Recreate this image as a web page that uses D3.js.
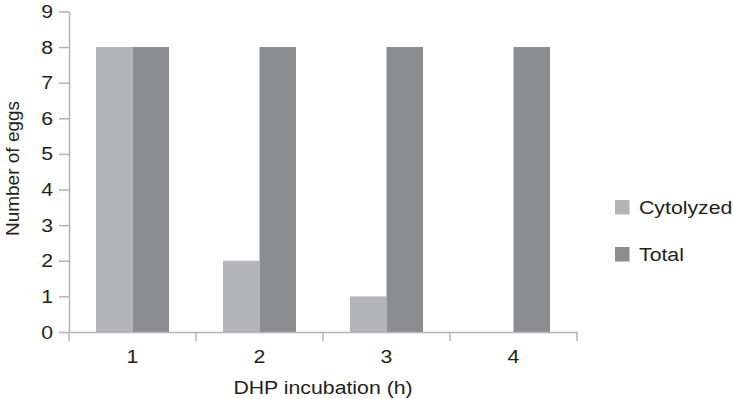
<!DOCTYPE html>
<html>
<head>
<meta charset="utf-8">
<script src="https://cdn.jsdelivr.net/npm/d3@7"></script>
<style>
  html, body { margin: 0; padding: 0; background: #fff; }
  svg { display: block; }
  text { font-family: "Liberation Sans", Arial, Helvetica, sans-serif; fill: #231f20; }
</style>
</head>
<body>
<svg id="chart" width="734" height="399"></svg>
<script>
// Egg counts per DHP incubation time
const categories = ["1", "2", "3", "4"];
const seriesNames = ["Cytolyzed", "Total"];
const cytolyzed = [8, 2, 1, 0];
const total = [8, 8, 8, 8];
const yTicks = [0, 1, 2, 3, 4, 5, 6, 7, 8, 9];
const xTitle = "DHP incubation (h)";
const yTitle = "Number of eggs";

const colors = { "Cytolyzed": "#b4b5b9", "Total": "#8c8d91" };
const axisColor = "#b3b3b3";
const FS = 19;      // font size
const SX = 1.12;    // horizontal glyph widening

const svg = d3.select("#chart");
const plotL = 69, plotR = 577, plotT = 11.4, plotB = 332;

const x0 = d3.scaleBand().domain(categories).range([plotL, plotR]).padding(0);
const x1 = d3.scaleBand().domain(seriesNames).range([0, x0.bandwidth()])
  .paddingInner(0).paddingOuter(0.74);
const y = d3.scaleLinear().domain([0, 9]).range([plotB, plotT]);

const rows = categories.map((c, i) => ({
  cat: c,
  values: [
    { key: "Cytolyzed", value: cytolyzed[i] },
    { key: "Total", value: total[i] }
  ]
}));

// bars
const groups = svg.append("g").selectAll("g").data(rows).join("g")
  .attr("transform", d => `translate(${x0(d.cat)},0)`);
groups.selectAll("rect").data(d => d.values).join("rect")
  .attr("x", d => x1(d.key))
  .attr("width", x1.bandwidth())
  .attr("y", d => y(d.value))
  .attr("height", d => y(0) - y(d.value))
  .attr("fill", d => colors[d.key]);

function widen(sel) {
  sel.each(function () {
    const t = d3.select(this);
    const xx = +t.attr("x") || 0;
    const yy = +t.attr("y") || 0;
    t.attr("x", 0).attr("y", 0)
      .attr("transform", `translate(${xx},${yy}) scale(${SX},1)`);
  });
}

// y axis
const yAxis = svg.append("g").attr("transform", `translate(${plotL},0)`)
  .call(d3.axisLeft(y).tickValues(yTicks).tickFormat(d3.format("d"))
    .tickSize(10).tickSizeOuter(0).tickPadding(6));
yAxis.attr("font-family", null);
yAxis.select(".domain").attr("stroke", axisColor).attr("stroke-width", 1.5);
yAxis.selectAll(".tick line").attr("stroke", axisColor).attr("stroke-width", 1.5);
yAxis.selectAll("text").attr("font-size", FS).attr("fill", "#231f20").call(widen);

// x axis
const xAxis = svg.append("g").attr("transform", `translate(0,${plotB})`)
  .call(d3.axisBottom(x0).tickSize(0).tickSizeOuter(0));
xAxis.attr("font-family", null);
xAxis.select(".domain").attr("stroke", axisColor).attr("stroke-width", 1.5);
xAxis.selectAll("text").attr("font-size", FS).attr("fill", "#231f20")
  .attr("dy", 0).attr("y", 31).call(widen);
// boundary ticks between categories
const edges = categories.map(c => x0(c)).concat([x0.range()[1]]);
xAxis.selectAll(".edge").data(edges).join("line")
  .attr("class", "edge")
  .attr("x1", d => d).attr("x2", d => d)
  .attr("y1", 0).attr("y2", 9)
  .attr("stroke", axisColor).attr("stroke-width", 1.5);

// axis titles
svg.append("text")
  .attr("text-anchor", "middle").attr("font-size", FS)
  .attr("transform", `translate(${(plotL + plotR) / 2},394) scale(${SX},1)`)
  .text(xTitle);
svg.append("text")
  .attr("text-anchor", "middle").attr("font-size", FS)
  .attr("transform", `translate(18.5,168.5) rotate(-90)`)
  .text(yTitle);

// legend
const legend = svg.append("g").selectAll("g").data(seriesNames).join("g")
  .attr("transform", (d, i) => `translate(615,${200 + i * 47})`);
legend.append("rect").attr("width", 14.5).attr("height", 14.5)
  .attr("fill", d => colors[d]);
legend.append("text").attr("font-size", FS)
  .attr("transform", `translate(24,13.8) scale(${SX},1)`)
  .text(d => d);
</script>
</body>
</html>
